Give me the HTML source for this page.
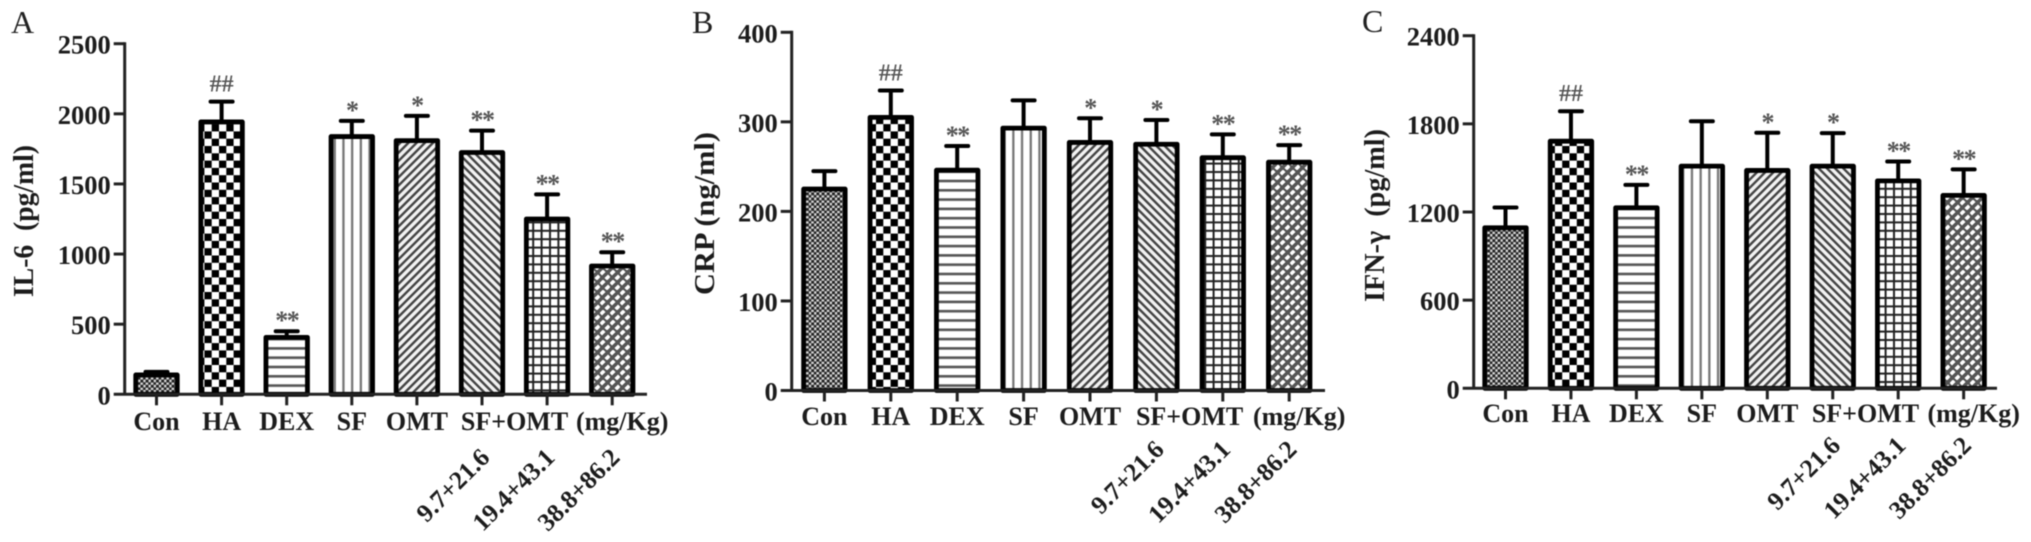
<!DOCTYPE html>
<html lang="en">
<head>
<meta charset="utf-8">
<title>IL-6, CRP and IFN-γ bar charts</title>
<style>
html,body{margin:0;padding:0;background:#fff;width:2031px;height:542px;overflow:hidden}
svg{display:block;filter:blur(0.55px)}
text{font-family:"Liberation Serif","Noto Serif CJK SC",serif;fill:#1c1c1c}
.tick{font-weight:bold;font-size:26.5px;text-anchor:end}
.cat{font-weight:bold;font-size:26px;text-anchor:middle}
.dose{font-weight:bold;font-size:25.5px;text-anchor:end}
.title{font-weight:bold;font-size:28px}
.letter{font-size:32px;fill:#222}
.sig{font-weight:bold;text-anchor:middle;fill:#555}
</style>
</head>
<body>
<svg id="figure" xmlns="http://www.w3.org/2000/svg" width="2031" height="542" viewBox="0 0 2031 542">
  <defs>
    <pattern id="p-con" width="5.2" height="5.2" patternUnits="userSpaceOnUse">
      <rect width="5.2" height="5.2" fill="#d8d8d8"/>
      <rect width="2.9" height="2.9" fill="#222"/>
      <rect x="2.6" y="2.6" width="2.9" height="2.9" fill="#222"/>
    </pattern>
    <pattern id="p-ha" width="14.6" height="14.6" patternUnits="userSpaceOnUse">
      <rect width="14.6" height="14.6" fill="#fff"/>
      <rect width="7.3" height="7.3" fill="#000"/>
      <rect x="7.3" y="7.3" width="7.3" height="7.3" fill="#000"/>
    </pattern>
    <pattern id="p-dex" width="9.3" height="9.3" patternUnits="userSpaceOnUse">
      <rect width="9.3" height="9.3" fill="#fff"/>
      <rect y="3" width="9.3" height="2.6" fill="#555"/>
    </pattern>
    <pattern id="p-sf" width="8.7" height="8.7" patternUnits="userSpaceOnUse">
      <rect width="8.7" height="8.7" fill="#fff"/>
      <rect x="3" width="2.3" height="8.7" fill="#777"/>
    </pattern>
    <pattern id="p-omt" width="5.8" height="5.8" patternUnits="userSpaceOnUse" patternTransform="rotate(45)">
      <rect width="5.8" height="5.8" fill="#f2f2f2"/>
      <rect width="2.4" height="5.8" fill="#444"/>
    </pattern>
    <pattern id="p-som" width="5.8" height="5.8" patternUnits="userSpaceOnUse" patternTransform="rotate(-45)">
      <rect width="5.8" height="5.8" fill="#f2f2f2"/>
      <rect width="2.4" height="5.8" fill="#444"/>
    </pattern>
    <pattern id="p-grid" width="8.4" height="8.4" patternUnits="userSpaceOnUse">
      <rect width="8.4" height="8.4" fill="#fff"/>
      <rect x="3" width="2" height="8.4" fill="#222"/>
      <rect y="3" width="8.4" height="2" fill="#222"/>
    </pattern>
    <pattern id="p-weave" width="10" height="10" patternUnits="userSpaceOnUse">
      <rect width="10" height="10" fill="#555"/>
      <line x1="0.73" y1="4.27" x2="4.27" y2="0.73" stroke="#fff" stroke-width="3.6"/>
      <line x1="5.73" y1="9.27" x2="9.27" y2="5.73" stroke="#fff" stroke-width="3.6"/>
    </pattern>
  </defs>

  <text class="letter" x="11" y="33">A</text>
  <text class="letter" x="692" y="33">B</text>
  <text class="letter" x="1362" y="32">C</text>

  <text class="title" transform="translate(33,297) rotate(-90)" textLength="152" lengthAdjust="spacingAndGlyphs" xml:space="preserve">IL-6  (pg/ml)</text>
  <text class="title" transform="translate(714,295) rotate(-90)" textLength="163" lengthAdjust="spacingAndGlyphs" xml:space="preserve">CRP (ng/ml)</text>
  <text class="title" transform="translate(1384,302) rotate(-90)" textLength="173" lengthAdjust="spacingAndGlyphs" xml:space="preserve">IFN-γ  (pg/ml)</text>

  <g id="charts"></g>
</svg>

<script>
// Shared categories
const categories = ['Con', 'HA', 'DEX', 'SF', 'OMT', 'SF+OMT'];
const unitLabel = '(mg/Kg)';
const groups = ['con', 'ha', 'dex', 'sf', 'omt', 'som-low', 'som-mid', 'som-high'];
const doseLabels = ['9.7+21.6', '19.4+43.1', '38.8+86.2'];

// Panel A: IL-6 (pg/ml)
const il6Means = [138, 1942, 406, 1838, 1809, 1724, 1250, 915];
const il6Errors = [22, 145, 44, 112, 176, 156, 176, 98];
const il6Ticks = [0, 500, 1000, 1500, 2000, 2500];
const il6Sig = ['', '##', '**', '*', '*', '**', '**', '**'];

// Panel B: CRP (ng/ml)
const crpMeans = [225, 305, 246, 293, 277, 275, 260, 255];
const crpErrors = [20, 30, 27, 31, 27, 27, 26, 19];
const crpTicks = [0, 100, 200, 300, 400];
const crpSig = ['', '##', '**', '', '*', '*', '**', '**'];

// Panel C: IFN-γ (pg/ml)
const ifnMeans = [1093, 1682, 1229, 1512, 1483, 1512, 1412, 1313];
const ifnErrors = [138, 204, 156, 306, 256, 225, 132, 177];
const ifnTicks = [0, 600, 1200, 1800, 2400];
const ifnSig = ['', '##', '**', '', '*', '*', '**', '**'];

const SVGNS = 'http://www.w3.org/2000/svg';
const patternIds = ['p-con', 'p-ha', 'p-dex', 'p-sf', 'p-omt', 'p-som', 'p-grid', 'p-weave'];

function make(tag, attrs, parent) {
  const el = document.createElementNS(SVGNS, tag);
  for (const k in attrs) el.setAttribute(k, attrs[k]);
  parent.appendChild(el);
  return el;
}

function drawPanel(cfg) {
  const root = document.getElementById('charts');
  const g = make('g', {}, root);
  
  

  const domainMax = cfg.ticks[cfg.ticks.length - 1];
  const y = v => cfg.y0 - (v / domainMax) * (cfg.y0 - cfg.yTop);
  const x = i => cfg.x0 + i * cfg.step;
  const BAR_W = 41.5, AXIS = '#222';

  // bars
  cfg.means.forEach((m, i) => {
    const bar = make('rect', {
      x: x(i) - BAR_W / 2, y: y(m), width: BAR_W, height: cfg.y0 - y(m),
      fill: 'url(#' + patternIds[i] + ')', stroke: '#000', 'stroke-width': 4.8, 'stroke-linejoin': 'round'
    }, g);
    
    

    const top = y(m + cfg.errors[i]);
    const stem = make('line', {
      x1: x(i), x2: x(i), y1: y(m), y2: top, stroke: '#000', 'stroke-width': 4
    }, g);
    
    

    const cap = make('line', {
      x1: x(i) - 11, x2: x(i) + 11, y1: top, y2: top, stroke: '#000', 'stroke-width': 4, 'stroke-linecap': 'round'
    }, g);
    
    

    const mark = cfg.sig[i];
    if (mark) {
      const hash = mark === '##';
      const sig = make('text', {
        class: 'sig', x: x(i), y: top - (hash ? 10 : 2), 'font-size': hash ? 24 : 26,
        'letter-spacing': hash ? 0 : -1.5
      }, g);
      sig.textContent = mark;
      
      
    }

    const xt = make('line', {
      x1: x(i), x2: x(i), y1: cfg.y0, y2: cfg.y0 + 11, stroke: AXIS, 'stroke-width': 3
    }, g);
    
    
  });

  // axes
  const yAxis = make('line', {
    x1: cfg.axisX, x2: cfg.axisX, y1: cfg.yTop - 1.5, y2: cfg.y0, stroke: AXIS, 'stroke-width': 3
  }, g);
  
  

  const xAxis = make('line', {
    x1: cfg.axisX - 11, x2: cfg.axisEnd, y1: cfg.y0, y2: cfg.y0, stroke: AXIS, 'stroke-width': 3
  }, g);
  
  

  cfg.ticks.forEach(t => {
    if (t !== 0) {
      const tk = make('line', {
        x1: cfg.axisX - 11, x2: cfg.axisX, y1: y(t), y2: y(t), stroke: AXIS, 'stroke-width': 3
      }, g);
      
      
    }
    const lb = make('text', { class: 'tick', x: cfg.axisX - 14, y: y(t) + 10 }, g);
    lb.textContent = String(t);
    
    
  });

  // category labels
  categories.forEach((c, i) => {
    const cx = i < 5 ? x(i) : x(5) + cfg.step / 2;
    const lb = make('text', { class: 'cat', x: cx, y: cfg.catY }, g);
    lb.textContent = c;
    
    
  });
  const unit = make('text', { class: 'cat', x: x(7) + 10, y: cfg.catY }, g);
  unit.textContent = unitLabel;
  
  

  // rotated dose labels
  doseLabels.forEach((d, i) => {
    const px = x(5 + i) + 9;
    const py = cfg.doseY;
    const lb = make('text', { class: 'dose', transform: 'translate(' + px + ',' + py + ') rotate(-45)' }, g);
    lb.textContent = d;
    
    
  });
}

drawPanel({ key: 'il6', means: il6Means, errors: il6Errors, ticks: il6Ticks, sig: il6Sig,
  x0: 156.5, step: 65.1, axisX: 124.7, axisEnd: 647, y0: 394.3, yTop: 43.7, catY: 430, doseY: 459 });
drawPanel({ key: 'crp', means: crpMeans, errors: crpErrors, ticks: crpTicks, sig: crpSig,
  x0: 824.4, step: 66.4, axisX: 791.7, axisEnd: 1325, y0: 390.5, yTop: 32.3, catY: 425, doseY: 451 });
drawPanel({ key: 'ifn', means: ifnMeans, errors: ifnErrors, ticks: ifnTicks, sig: ifnSig,
  x0: 1505.5, step: 65.45, axisX: 1473.7, axisEnd: 1997, y0: 388.3, yTop: 35.7, catY: 422, doseY: 447 });
</script>
</body>
</html>
